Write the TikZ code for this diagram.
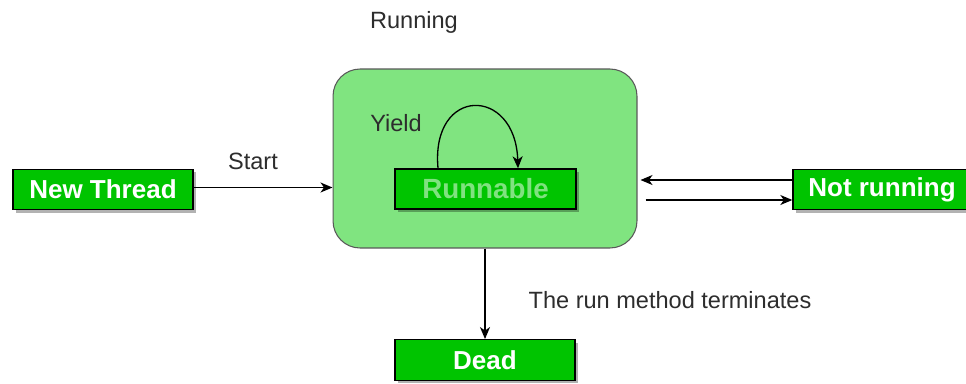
\documentclass[tikz,border=0pt]{standalone}
\usepackage{fontspec}
\setmainfont{Liberation Sans}
\usetikzlibrary{positioning,arrows.meta,calc,shadows}

\definecolor{stategreen}{RGB}{0,196,0}
\definecolor{runbg}{RGB}{128,228,128}
\definecolor{runtext}{RGB}{128,226,128}
\definecolor{labelgray}{RGB}{45,45,45}

\begin{document}
\begin{tikzpicture}[
  x=0.02cm, y=-0.02cm,
  lbl/.style={text=labelgray, font=\fontsize{13.4}{16}\selectfont, inner sep=0pt},
  state/.style={draw=black, line width=0.8pt, fill=stategreen, text=white, minimum width=3.6cm, minimum height=0.81cm, inner sep=0pt, font=\fontsize{14.8}{17}\selectfont\bfseries,
    drop shadow={shadow xshift=0.06cm, shadow yshift=-0.06cm, fill=black, opacity=0.3}},
  conn/.style={line width=0.75pt, -{Stealth[length=0.24cm, width=0.2cm, inset=0.07cm]}}
]
\useasboundingbox[fill=white] (0,0) rectangle (966,383);

% running area with the runnable state inside
\node[draw=black!65, fill=runbg, rounded corners=0.54cm, line width=0.6pt, minimum width=6.08cm, minimum height=3.58cm, inner sep=0pt] (running) at (485,158.5) {};
\node[state, text=runtext, minimum width=3.62cm, minimum height=0.8cm, font=\fontsize{15.8}{18}\selectfont\bfseries] (runnable) at (485.5,189) {Runnable};

\node[state] (newthread) at (103,189.5) {New Thread};
\node[state, minimum width=3.56cm] (notrunning) at (882,189.5) {Not running};
\node[state] (dead) at (485,360) {Dead};

\node[lbl] (lrunning) at (414,22) {Running};
\node[lbl] (lyield) at (396,123) {Yield};
\node[lbl] (lstart) at (253,161) {Start};
\node[lbl] (lterm) at (670,300) {The run method terminates};

% transitions
\draw[conn] ([yshift=0.04cm]newthread.east) -- ([yshift=0.04cm]newthread.east -| running.west);
\draw[conn] ([xshift=-0.95cm]runnable.north) .. controls ([xshift=-1.1cm, yshift=1.65cm]runnable.north) and ([xshift=0.6cm, yshift=1.65cm]runnable.north) .. ([xshift=0.65cm]runnable.north);
\draw[conn] ([yshift=0.19cm]notrunning.west) -- ([xshift=0.06cm, yshift=0.19cm]notrunning.west -| running.east);
\draw[conn] ([xshift=0.16cm, yshift=-0.21cm]notrunning.west -| running.east) -- ([yshift=-0.21cm]notrunning.west);
\draw[conn] (running.south -| dead.north) -- (dead.north);
\end{tikzpicture}
\end{document}
